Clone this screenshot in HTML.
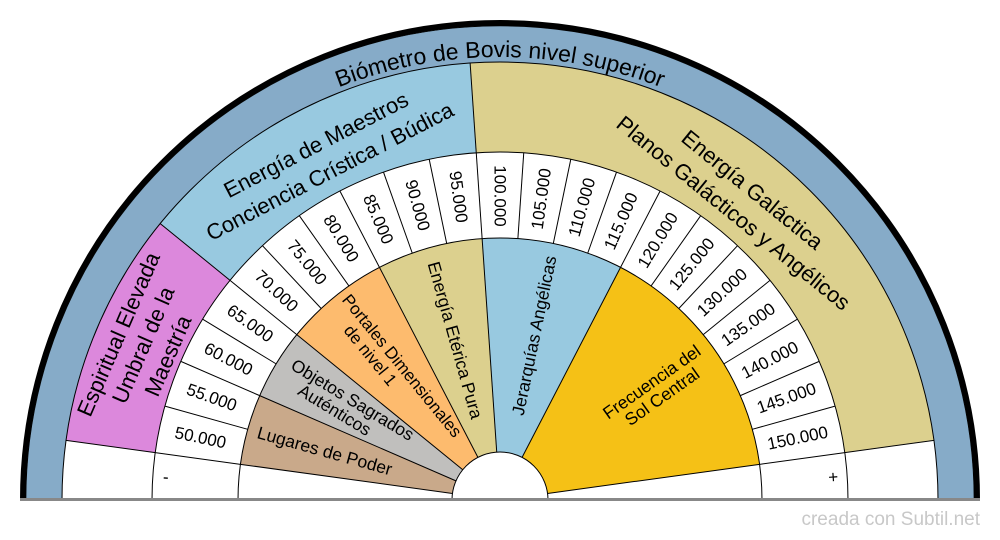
<!DOCTYPE html>
<html><head><meta charset="utf-8"><style>
html,body{margin:0;padding:0;background:#fff;width:1000px;height:540px;overflow:hidden;}
svg{display:block;font-family:"Liberation Sans",sans-serif;}
</style></head><body>
<svg width="1000" height="540" viewBox="0 0 1000 540" xmlns="http://www.w3.org/2000/svg">
<g transform="translate(500,500) rotate(180)" fill="none">
  <circle r="477" stroke="#000" stroke-width="6"/>
  <circle r="456" stroke="#86abc8" stroke-width="36"/>
  <circle r="393" stroke="#ffffff" stroke-width="90"/>
  <circle r="393" pathLength="360" stroke="#dc88dc" stroke-width="90" stroke-dasharray="31.304 720" stroke-dashoffset="-7.826"/>
  <circle r="393" pathLength="360" stroke="#98c9e0" stroke-width="90" stroke-dasharray="46.957 720" stroke-dashoffset="-39.130"/>
  <circle r="393" pathLength="360" stroke="#dcd08e" stroke-width="90" stroke-dasharray="86.087 720" stroke-dashoffset="-86.087"/>
  <circle r="305" stroke="#ffffff" stroke-width="86"/>
  <circle r="155" stroke="#ffffff" stroke-width="214"/>
  <circle r="155" pathLength="360" stroke="#c9a98a" stroke-width="214" stroke-dasharray="15.652 720" stroke-dashoffset="-7.826"/>
  <circle r="155" pathLength="360" stroke="#c0bfbd" stroke-width="214" stroke-dasharray="15.652 720" stroke-dashoffset="-23.478"/>
  <circle r="155" pathLength="360" stroke="#fdbb6e" stroke-width="214" stroke-dasharray="23.478 720" stroke-dashoffset="-39.130"/>
  <circle r="155" pathLength="360" stroke="#dcd08e" stroke-width="214" stroke-dasharray="23.478 720" stroke-dashoffset="-62.609"/>
  <circle r="155" pathLength="360" stroke="#98c9e0" stroke-width="214" stroke-dasharray="31.304 720" stroke-dashoffset="-86.087"/>
  <circle r="155" pathLength="360" stroke="#f5c116" stroke-width="214" stroke-dasharray="54.783 720" stroke-dashoffset="-117.391"/>
  <circle r="48" fill="#fff" stroke="#000" stroke-width="1"/>
  <circle r="438" stroke="#000" stroke-width="1"/>
  <circle r="474" stroke="#000" stroke-width="0.6"/>
  <circle r="348" stroke="#000" stroke-width="1"/>
  <circle r="262" stroke="#000" stroke-width="1"/>
  <g stroke="#000" stroke-width="1">
    <line x1="262" x2="348" transform="rotate(7.826)"/>
    <line x1="262" x2="348" transform="rotate(15.652)"/>
    <line x1="262" x2="348" transform="rotate(23.478)"/>
    <line x1="262" x2="348" transform="rotate(31.304)"/>
    <line x1="262" x2="348" transform="rotate(39.130)"/>
    <line x1="262" x2="348" transform="rotate(46.957)"/>
    <line x1="262" x2="348" transform="rotate(54.783)"/>
    <line x1="262" x2="348" transform="rotate(62.609)"/>
    <line x1="262" x2="348" transform="rotate(70.435)"/>
    <line x1="262" x2="348" transform="rotate(78.261)"/>
    <line x1="262" x2="348" transform="rotate(86.087)"/>
    <line x1="262" x2="348" transform="rotate(93.913)"/>
    <line x1="262" x2="348" transform="rotate(101.739)"/>
    <line x1="262" x2="348" transform="rotate(109.565)"/>
    <line x1="262" x2="348" transform="rotate(117.391)"/>
    <line x1="262" x2="348" transform="rotate(125.217)"/>
    <line x1="262" x2="348" transform="rotate(133.043)"/>
    <line x1="262" x2="348" transform="rotate(140.870)"/>
    <line x1="262" x2="348" transform="rotate(148.696)"/>
    <line x1="262" x2="348" transform="rotate(156.522)"/>
    <line x1="262" x2="348" transform="rotate(164.348)"/>
    <line x1="262" x2="348" transform="rotate(172.174)"/>
    <line x1="348" x2="438" transform="rotate(7.826)"/>
    <line x1="348" x2="438" transform="rotate(39.130)"/>
    <line x1="348" x2="438" transform="rotate(86.087)"/>
    <line x1="348" x2="438" transform="rotate(172.174)"/>
    <line x1="48" x2="262" transform="rotate(7.826)"/>
    <line x1="48" x2="262" transform="rotate(23.478)"/>
    <line x1="48" x2="262" transform="rotate(39.130)"/>
    <line x1="48" x2="262" transform="rotate(62.609)"/>
    <line x1="48" x2="262" transform="rotate(86.087)"/>
    <line x1="48" x2="262" transform="rotate(117.391)"/>
    <line x1="48" x2="262" transform="rotate(172.174)"/>
  </g>
  <g fill="#000" font-size="17" text-anchor="middle" dominant-baseline="central">
    <text transform="rotate(3.913) translate(335,0) rotate(180)">-</text>
    <text transform="rotate(11.739) translate(306,0) rotate(180)">50.000</text>
    <text transform="rotate(19.565) translate(306,0) rotate(180)">55.000</text>
    <text transform="rotate(27.391) translate(306,0) rotate(180)">60.000</text>
    <text transform="rotate(35.217) translate(306,0) rotate(180)">65.000</text>
    <text transform="rotate(43.043) translate(306,0) rotate(180)">70.000</text>
    <text transform="rotate(50.870) translate(306,0) rotate(180)">75.000</text>
    <text transform="rotate(58.696) translate(306,0) rotate(180)">80.000</text>
    <text transform="rotate(66.522) translate(306,0) rotate(180)">85.000</text>
    <text transform="rotate(74.348) translate(306,0) rotate(180)">90.000</text>
    <text transform="rotate(82.174) translate(306,0) rotate(180)">95.000</text>
    <text transform="rotate(90) translate(304,0) rotate(180)">100.000</text>
    <text transform="rotate(97.826) translate(304,0)">105.000</text>
    <text transform="rotate(105.652) translate(304,0)">110.000</text>
    <text transform="rotate(113.478) translate(304,0)">115.000</text>
    <text transform="rotate(121.304) translate(304,0)">120.000</text>
    <text transform="rotate(129.130) translate(304,0)">125.000</text>
    <text transform="rotate(136.957) translate(304,0)">130.000</text>
    <text transform="rotate(144.783) translate(304,0)">135.000</text>
    <text transform="rotate(152.609) translate(304,0)">140.000</text>
    <text transform="rotate(160.435) translate(304,0)">145.000</text>
    <text transform="rotate(168.261) translate(304,0)">150.000</text>
    <text transform="rotate(176.087) translate(334,0)">+</text>
  </g>
  <g fill="#000" font-size="22" text-anchor="middle" dominant-baseline="central">
    <text transform="rotate(23.478) translate(416,0) rotate(90)">Espiritual Elevada</text>
    <text transform="rotate(23.478) translate(389,0) rotate(90)">Umbral de la</text>
    <text transform="rotate(23.478) translate(362,0) rotate(90)">Maestría</text>
    <text transform="rotate(62.609) translate(400,0) rotate(90)">Energía de Maestros</text>
    <text transform="rotate(62.609) translate(370,0) rotate(90)">Conciencia Crística / Búdica</text>
    <text transform="rotate(129.130) translate(400,0) rotate(90)">Energía Galáctica</text>
    <text transform="rotate(129.130) translate(370,0) rotate(90)">Planos Galácticos y Angélicos</text>
  </g>
  <g fill="#000" font-size="17.5" text-anchor="middle" dominant-baseline="central">
    <text transform="rotate(15.652) translate(182,0) rotate(180)">Lugares de Poder</text>
    <text transform="rotate(31.304) translate(178,0) rotate(180)"><tspan x="0" dy="-9">Objetos Sagrados</tspan><tspan x="-10" dy="18">Auténticos</tspan></text>
    <text transform="rotate(50.870) translate(166,0) rotate(180)" font-size="17"><tspan x="0" dy="-9">Portales Dimensionales</tspan><tspan x="-28" dy="18">de nivel 1</tspan></text>
    <text transform="rotate(74.348) translate(166,0) rotate(180)">Energía Etérica Pura</text>
    <text transform="rotate(101.739) translate(168,0)">Jerarquías Angélicas</text>
    <text transform="rotate(144.783) translate(192,0)"><tspan x="0" dy="-9">Frecuencia del</tspan><tspan x="0" dy="18">Sol Central</tspan></text>
  </g>
</g>
<path id="tp" d="M 57,500 A 443 443 0 0 1 943,500" fill="none"/>
<text font-size="23" fill="#000" text-anchor="middle"><textPath href="#tp" startOffset="50%">Biómetro de Bovis nivel superior</textPath></text>
<rect x="0" y="500" width="1000" height="40" fill="#fff"/>
<line x1="20" y1="499.5" x2="980" y2="499.5" stroke="#888" stroke-width="3"/>
<text x="980" y="525" font-size="19" fill="#c8c8c8" text-anchor="end">creada con Subtil.net</text>
</svg>
</body></html>
